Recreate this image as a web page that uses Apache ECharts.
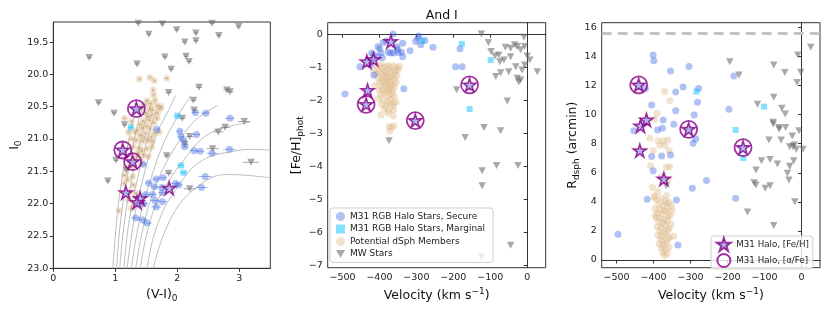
<!DOCTYPE html>
<html><head><meta charset="utf-8">
<script src="https://cdn.jsdelivr.net/npm/echarts@6/dist/echarts.min.js"></script>
<style>html,body{margin:0;padding:0;background:#fff}#c{width:830px;height:312px}</style>
</head><body><div id="c"></div><script>
// ---------- Panel 1: CMD  [ (V-I)0, I0, colour error ] ----------
const cmdMW = [[1.37,19.21,0.04],[1.76,19.22,0.04],[2.56,19.21,0.04],[1.54,19.38,0.04],[1.99,19.31,0.04],[2.30,19.36,0.04],[2.67,19.40,0.04],[2.99,19.26,0.04],[2.12,19.50,0.04],[2.30,19.48,0.04],[0.58,19.74,0.04],[1.35,19.84,0.04],[1.80,19.73,0.04],[2.14,19.72,0.04],[2.19,19.80,0.04],[1.90,19.92,0.04],[2.35,20.20,0.05],[1.86,20.28,0.05],[2.80,20.24,0.06],[2.85,20.27,0.06],[0.73,20.44,0.04],[2.26,20.40,0.05],[0.98,20.60,0.04],[2.27,20.55,0.05],[1.15,20.78,0.04],[2.08,20.68,0.05],[3.08,20.73,0.10],[2.77,20.82,0.08],[2.66,20.89,0.08],[2.20,20.96,0.06],[2.12,21.08,0.06],[2.57,21.15,0.10],[1.83,21.26,0.05],[1.01,21.33,0.04],[3.19,21.36,0.13],[1.18,21.48,0.05],[1.86,21.53,0.06],[0.88,21.65,0.04],[2.20,21.77,0.10]];
const cmdBlue = [[2.29,20.59,0.06],[2.46,20.60,0.07],[2.85,20.68,0.08],[1.67,20.85,0.05],[2.04,20.88,0.05],[2.06,20.96,0.05],[2.10,21.02,0.05],[2.12,21.12,0.06],[2.31,20.93,0.06],[2.27,21.18,0.07],[2.37,21.19,0.07],[2.56,21.22,0.09],[2.84,21.16,0.10],[1.45,21.39,0.05],[2.45,21.58,0.11],[2.39,21.75,0.10],[1.54,21.68,0.06],[1.66,21.62,0.06],[1.77,21.60,0.06],[1.75,21.75,0.07],[1.63,21.74,0.06],[1.97,21.69,0.07],[2.02,21.71,0.07],[1.49,21.86,0.06],[1.60,21.86,0.07],[1.76,21.83,0.07],[1.46,22.00,0.07],[1.64,21.95,0.08],[1.66,22.05,0.08],[1.76,21.97,0.08],[1.33,22.22,0.07],[1.44,22.25,0.08],[1.51,22.30,0.08]];
const cmdMarg = [[1.25,20.82,0.04],[2.00,20.64,0.05],[2.06,21.41,0.06],[2.10,21.52,0.06]];
const cmdTan = [[1.39,20.07],[1.56,20.05],[1.63,20.10],[1.83,20.06],[1.61,20.24],[1.62,20.32],[1.64,20.40],[1.51,20.41],[1.57,20.45],[1.67,20.48],[1.72,20.53],[1.56,20.53],[1.74,20.50],[1.42,20.51],[1.49,20.60],[1.59,20.63],[1.67,20.68],[1.55,20.71],[1.45,20.72],[1.51,20.80],[1.40,20.78],[1.15,20.68],[1.26,20.73],[1.21,20.89],[1.32,20.89],[1.40,20.94],[1.49,20.91],[1.63,20.91],[1.56,20.84],[1.71,20.89],[1.34,21.02],[1.44,21.04],[1.53,21.02],[1.60,21.04],[1.29,21.12],[1.39,21.14],[1.51,21.15],[1.59,21.12],[1.37,21.22],[1.46,21.25],[1.53,21.27],[1.32,21.32],[1.42,21.38],[1.26,21.43],[1.18,21.45],[1.15,21.56],[1.28,21.58],[1.14,21.69],[1.29,21.71],[1.23,21.82],[1.34,21.84],[1.21,21.94],[1.32,22.00],[1.06,22.11],[1.26,22.07],[1.48,20.47],[1.60,20.55],[1.68,20.60],[1.53,20.66],[1.62,20.75],[1.44,20.83],[1.36,20.86],[1.58,20.97],[1.47,20.98],[1.27,21.00],[1.43,21.18],[1.35,21.28],[1.24,21.36],[1.20,21.63]];
const cmdStar = [[1.34,20.53],[1.12,21.17],[1.28,21.35],[1.17,21.83],[1.40,21.92],[1.35,21.98],[1.87,21.76]];
const cmdCircle = [[1.34,20.53],[1.12,21.17],[1.28,21.35]];
const isochrones = [
 [[0.96,23],[1.00,22.5],[1.05,22.0],[1.11,21.6],[1.16,21.3],[1.22,21.0],[1.29,20.7],[1.36,20.5]],
 [[1.02,23],[1.06,22.5],[1.12,22.0],[1.19,21.6],[1.25,21.3],[1.31,21.0],[1.38,20.7],[1.46,20.45]],
 [[1.07,23],[1.12,22.5],[1.19,22.0],[1.27,21.6],[1.34,21.3],[1.41,21.0],[1.49,20.7],[1.58,20.45]],
 [[1.14,23],[1.19,22.5],[1.27,22.0],[1.36,21.6],[1.44,21.3],[1.52,21.0],[1.61,20.7],[1.72,20.45]],
 [[1.19,23],[1.26,22.5],[1.35,22.0],[1.45,21.6],[1.51,21.38],[1.61,21.07],[1.72,20.81],[1.86,20.55],[1.97,20.33]],
 [[1.26,23],[1.34,22.5],[1.45,22.0],[1.58,21.6],[1.67,21.33],[1.80,21.02],[1.94,20.76],[2.10,20.50],[2.22,20.33]],
 [[1.33,23],[1.42,22.5],[1.55,22.0],[1.75,21.5],[2.05,21.0],[2.30,20.7],[2.65,20.48]],
 [[1.40,23],[1.50,22.5],[1.66,22.0],[1.93,21.55],[2.15,21.27],[2.37,21.02],[2.64,20.86],[3.16,20.74]],
 [[1.51,23],[1.62,22.5],[1.80,22.05],[1.94,21.84],[2.10,21.61],[2.26,21.43],[2.53,21.27],[2.85,21.20],[3.17,21.16],[3.50,21.17]],
 [[1.61,23],[1.77,22.5],[2.04,22.0],[2.36,21.71],[2.60,21.58],[2.80,21.55],[3.10,21.56],[3.50,21.60]]
];
const cmdXTicks = [0,1,2,3];
const cmdYTicks = [19.5,20.0,20.5,21.0,21.5,22.0,22.5,23.0];

// ---------- Panel 2: velocity vs [Fe/H]phot ----------
const feBlue = [[-363,0.01],[-404,-0.38],[-399,-0.44],[-390,-0.25],[-369,-0.57],[-362,-0.57],[-376,-0.54],[-396,-0.57],[-404,-0.68],[-416,-0.63],[-421,-0.57],[-453,-0.98],[-415,-1.23],[-493,-1.81],[-334,-1.65],[-351,-0.45],[-340,-0.54],[-337,-0.27],[-353,-0.38],[-317,-0.50],[-302,-0.22],[-293,-0.05],[-288,-0.32],[-277,-0.19],[-255,-0.39],[-296,-0.12],[-182,-0.44],[-194,-0.98],[-176,-0.98],[-381,-0.20],[-392,-0.71],[-423,-0.91],[-337,-0.68],[-349,-0.55]];
const feMarg = [[-284,-0.20],[-177,-0.29],[-99,-0.78],[-156,-2.26]];
const feTan = [[-407,-0.96],[-396,-0.91],[-388,-0.99],[-379,-0.94],[-371,-0.98],[-361,-0.95],[-352,-1.01],[-346,-0.97],[-416,-1.07],[-402,-1.12],[-393,-1.04],[-384,-1.13],[-375,-1.06],[-366,-1.11],[-357,-1.14],[-349,-1.08],[-410,-1.21],[-398,-1.17],[-389,-1.24],[-380,-1.19],[-371,-1.27],[-361,-1.20],[-353,-1.25],[-404,-1.33],[-393,-1.36],[-383,-1.29],[-376,-1.38],[-367,-1.31],[-358,-1.37],[-399,-1.45],[-389,-1.42],[-380,-1.49],[-372,-1.44],[-364,-1.52],[-355,-1.46],[-412,-1.55],[-395,-1.58],[-385,-1.54],[-377,-1.63],[-369,-1.57],[-360,-1.61],[-401,-1.69],[-391,-1.66],[-382,-1.74],[-373,-1.68],[-365,-1.72],[-396,-1.82],[-386,-1.79],[-375,-1.86],[-367,-1.81],[-359,-1.88],[-403,-1.94],[-390,-1.97],[-378,-2.03],[-370,-1.96],[-361,-2.08],[-394,-2.11],[-383,-2.16],[-372,-2.11],[-364,-2.18],[-355,-2.05],[-387,-2.26],[-375,-2.31],[-361,-2.28],[-396,-2.44],[-377,-2.38],[-363,-2.47],[-374,-2.79],[-367,-2.82],[-372,-2.93],[-361,-2.77]];
const feMW = [[-124,0.01],[-105,-0.25],[-9,-0.09],[-98,-0.52],[-87,-0.66],[-77,-0.63],[-63,-0.78],[-59,-0.39],[-45,-0.42],[-34,-0.32],[-27,-0.37],[-18,-0.47],[-7,-0.37],[0,-0.66],[7,-0.78],[-74,-0.83],[-45,-0.68],[-31,-0.98],[-14,-1.08],[-7,-0.93],[27,-1.13],[-72,-1.16],[-50,-1.13],[-85,-1.28],[-27,-1.33],[-18,-1.38],[-23,-1.44],[-191,-1.68],[-54,-2.02],[-117,-2.82],[-72,-2.92],[-168,-3.12],[-83,-3.97],[-122,-4.13],[-25,-3.97],[-122,-4.58],[-45,-6.38],[-124,-6.73],[-374,-3.22]];
const feStar = [[-369,-0.22],[-434,-0.83],[-416,-0.76],[-432,-1.70],[-436,-2.12],[-303,-2.61],[-156,-1.53]];
const feCircle = [[-436,-2.12],[-303,-2.61],[-156,-1.53]];
const velTicks = [-500,-400,-300,-200,-100,0];
const feTicks = [-7,-6,-5,-4,-3,-2,-1,0];

// ---------- Panel 3: velocity vs R_dsph ----------
const rBlue = [[-401,14.1],[-399,13.7],[-354,13.0],[-304,13.3],[-422,11.8],[-340,11.55],[-320,11.9],[-278,11.8],[-281,10.85],[-405,10.66],[-340,10.27],[-290,9.97],[-374,9.63],[-376,9.06],[-389,8.94],[-453,8.89],[-345,9.33],[-286,8.32],[-293,8.03],[-405,7.11],[-378,7.15],[-354,7.22],[-401,6.14],[-257,5.46],[-295,4.93],[-417,4.17],[-338,4.13],[-496,1.77],[-334,1.03],[-196,10.37],[-183,12.66],[-178,4.24]];
const rMarg = [[-284,11.58],[-178,8.94],[-101,10.55],[-157,7.02]];
const rTan = [[-370,11.58],[-356,10.95],[-390,10.1],[-397,9.68],[-410,8.37],[-388,8.2],[-374,8.2],[-361,8.25],[-383,7.9],[-370,7.9],[-401,7.53],[-358,7.53],[-408,6.49],[-365,6.38],[-356,6.42],[-379,5.73],[-361,5.5],[-403,4.98],[-397,4.4],[-365,4.43],[-388,4.7],[-392,4.12],[-380,4.23],[-369,4.08],[-357,3.96],[-386,3.83],[-374,3.74],[-364,3.91],[-352,3.71],[-396,3.52],[-383,3.46],[-371,3.41],[-361,3.56],[-389,3.22],[-377,3.14],[-367,3.33],[-355,3.07],[-392,2.93],[-382,2.86],[-371,2.79],[-360,2.97],[-386,2.61],[-375,2.52],[-363,2.68],[-390,2.28],[-379,2.21],[-368,2.37],[-357,2.18],[-383,1.98],[-372,1.91],[-361,2.07],[-388,1.72],[-377,1.63],[-366,1.78],[-356,1.58],[-381,1.41],[-371,1.32],[-360,1.47],[-385,1.12],[-374,1.02],[-364,1.17],[-379,0.82],[-368,0.73],[-358,0.88],[-375,0.51],[-363,0.44],[-370,0.31],[-395,3.02],[-350,3.38],[-398,4.31],[-352,2.47],[-345,1.63]];
const rMW = [[25,14.63],[-10,14.1],[-194,13.64],[-169,12.72],[-75,13.41],[-2,12.91],[-45,12.89],[-12,12.2],[-119,10.71],[-75,11.2],[-53,10.43],[-44,10.04],[-77,9.47],[-76,9.36],[-61,9.12],[-60,9.0],[-43,9.12],[-7,8.89],[-88,8.25],[-55,8.25],[-25,8.53],[-32,7.79],[-23,7.79],[-14,7.61],[4,7.61],[-20,7.91],[-108,6.83],[-85,6.92],[-65,6.6],[-21,6.83],[-32,6.44],[-38,5.96],[-34,5.5],[-123,6.19],[-128,5.32],[-123,5.16],[-98,4.93],[-85,5.1],[-18,4.01],[-146,3.30],[-75,2.38],[-366,5.1]];
const rStar = [[-440,12.04],[-305,8.99],[-158,7.73],[-435,9.22],[-419,9.63],[-437,7.52],[-372,5.57]];
const rCircle = [[-440,12.04],[-305,8.99],[-158,7.73]];
const rTicks = [0,2,4,6,8,10,12,14,16];
const rTidal = 15.6;

// ---------- styles ----------
const FONT = 'DejaVu Sans';
const PURPLE = '#8b008b';
const STAR = 'path://M50,0 L61.8,35.3 L100,35.3 L69.1,57.6 L80.9,95.1 L50,71.8 L19.1,95.1 L30.9,57.6 L0,35.3 L38.2,35.3 Z';
const TRI_DOWN = 'path://M0,0 L100,0 L50,90 Z';
const C_BLUE = 'rgba(65,105,225,0.52)';
const C_CYAN = 'rgba(0,191,255,0.6)';
const C_TAN = 'rgba(222,184,135,0.5)';
const C_MW = 'rgba(105,105,105,0.72)';
const C_STARFILL = 'rgba(150,165,230,0.95)';

const NB = 'M31 RGB Halo Stars, Secure', NC = 'M31 RGB Halo Stars, Marginal', NT = 'Potential dSph Members', NM = 'MW Stars', NS = 'M31 Halo, [Fe/H]', NO = 'M31 Halo, [\u03b1/Fe]';

function lab(v, dec) { const s = Math.abs(v).toFixed(dec); return v < 0 ? '\u2212' + s : s; }
const nameRich = {
  n: {fontFamily: FONT, fontSize: 12.5, color: '#111'},
  s: {fontFamily: FONT, fontSize: 9, color: '#111', padding: [7, 0, 0, 0]},
  p: {fontFamily: FONT, fontSize: 9, color: '#111', padding: [0, 0, 7, 0]}
};
function axis(gi, min, max, ticks, dec, name, gap, extra) {
  return Object.assign({
    type: 'value', gridIndex: gi, min: min, max: max,
    name: name, nameLocation: 'middle', nameGap: gap,
    nameTextStyle: {rich: nameRich},
    axisLine: {show: true, lineStyle: {color: '#333', width: 1}},
    axisTick: {show: true, inside: false, length: 3.5, lineStyle: {color: '#333'}, customValues: ticks},
    axisLabel: {show: true, margin: 5, fontFamily: FONT, fontSize: 9.5, color: '#222', customValues: ticks,
      formatter: v => lab(v, dec)},
    splitLine: {show: false}
  }, extra || {});
}
function errSeries(data, xi, yi, color) {
  return {type: 'custom', xAxisIndex: xi, yAxisIndex: yi, z: 2, silent: true,
    encode: {x: 0, y: 1},
    data: data,
    renderItem: function (params, api) {
      const x = api.value(0), y = api.value(1), e = api.value(2);
      const p1 = api.coord([x - e, y]), p2 = api.coord([x + e, y]);
      return {type: 'line', shape: {x1: p1[0], y1: p1[1], x2: p2[0], y2: p2[1]},
        style: {stroke: color, lineWidth: 1}};
    }};
}
function scat(name, data, xi, yi, sym, size, style, z) {
  return {type: 'scatter', name: name, xAxisIndex: xi, yAxisIndex: yi, data: data,
    symbol: sym, symbolSize: size, itemStyle: style, z: z, silent: true, clip: false};
}
function panelMarks(i, blue, marg, tan, mw, star, circ) {
  return [
    scat(NT, tan, i, i, 'circle', 7, {color: C_TAN}, 3),
    scat(NM, mw, i, i, TRI_DOWN, [7.5, 7], {color: C_MW}, 3),
    scat(NB, blue, i, i, 'circle', 7, {color: C_BLUE}, 4),
    scat(NC, marg, i, i, 'rect', 6, {color: C_CYAN}, 4),
    scat(NS, star, i, i, STAR, 13, {color: C_STARFILL, borderColor: PURPLE, borderWidth: 1.6}, 6),
    scat(NO, circ, i, i, 'circle', 17, {color: 'rgba(0,0,0,0)', borderColor: PURPLE, borderWidth: 1.8}, 6)
  ];
}

const series = [];
isochrones.forEach(function (iso) {
  series.push({type: 'line', xAxisIndex: 0, yAxisIndex: 0, data: iso, smooth: 0.35, showSymbol: false,
    symbol: 'none', lineStyle: {color: '#bdbdbd', width: 1}, z: 1, silent: true});
});
series.push(errSeries(cmdMW, 0, 0, 'rgba(105,105,105,0.6)'));
series.push(errSeries(cmdBlue, 0, 0, 'rgba(65,105,225,0.45)'));
series.push(errSeries(cmdMarg, 0, 0, 'rgba(0,191,255,0.5)'));
series.push(...panelMarks(0, cmdBlue, cmdMarg, cmdTan, cmdMW, cmdStar, cmdCircle));
series.push({type: 'scatter', name: 'tan centres', xAxisIndex: 0, yAxisIndex: 0, data: cmdTan, symbol: 'circle',
  symbolSize: 2.5, itemStyle: {color: 'rgba(175,150,125,0.75)'}, z: 3, silent: true});
series.push(...panelMarks(1, feBlue, feMarg, feTan, feMW, feStar, feCircle));
series.push(...panelMarks(2, rBlue, rMarg, rTan, rMW, rStar, rCircle));
series[series.length - 6].markLine = {silent: true, symbol: 'none', label: {show: false},
  lineStyle: {color: '#c4c4c4', width: 3, type: [10, 6]}, data: [{yAxis: rTidal}]};

const option = {
  animation: false,
  backgroundColor: '#fff',
  title: {text: 'And I', left: 436.7, top: 4, textAlign: 'center',
    textStyle: {fontFamily: FONT, fontSize: 12.5, fontWeight: 'normal', color: '#111'}},
  grid: [
    {left: 53.3, top: 22, width: 217, height: 246.3, show: true, borderColor: '#333', borderWidth: 1},
    {left: 327.7, top: 22.7, width: 218, height: 245, show: true, borderColor: '#333', borderWidth: 1},
    {left: 601.7, top: 22.7, width: 218.3, height: 245, show: true, borderColor: '#333', borderWidth: 1}
  ],
  xAxis: [
    axis(0, 0, 3.5, cmdXTicks, 0, '{n|(V-I)}{s|0}', 17),
    axis(1, -540, 50, velTicks, 0, '{n|Velocity (km s}{p|\u22121}{n|)}', 17),
    axis(2, -540, 50, velTicks, 0, '{n|Velocity (km s}{p|\u22121}{n|)}', 17)
  ],
  yAxis: [
    axis(0, 19.19, 23, cmdYTicks, 1, '{n|I}{s|0}', 28, {inverse: true}),
    axis(1, -7.06, 0.35, feTicks, 0, '{n|[Fe/H]}{s|phot}', 20),
    axis(2, -0.53, 16.32, rTicks, 0, '{n|R}{s|dsph}{n| (arcmin)}', 20)
  ],
  legend: [
    {data: [NB, NC, NT, NM], left: 330, top: 208, orient: 'vertical', itemGap: 3.5,
      itemWidth: 9, itemHeight: 9, padding: [4, 8, 4, 6],
      backgroundColor: 'rgba(255,255,255,0.8)', borderColor: '#d0d0d0', borderWidth: 1, borderRadius: 3,
      textStyle: {fontFamily: FONT, fontSize: 9, color: '#222'}, selectedMode: false},
    {data: [NS, NO], left: 711, top: 236, orient: 'vertical', itemGap: 1,
      itemWidth: 15, itemHeight: 13, padding: [1, 4, 1, 5],
      backgroundColor: 'rgba(255,255,255,0.8)', borderColor: '#d0d0d0', borderWidth: 1, borderRadius: 3,
      textStyle: {fontFamily: FONT, fontSize: 8.7, color: '#222'}, selectedMode: false}
  ],
  series: series
};
const chart = echarts.init(document.getElementById('c'), null, {renderer: 'canvas'});
chart.setOption(option);
</script></body></html>
